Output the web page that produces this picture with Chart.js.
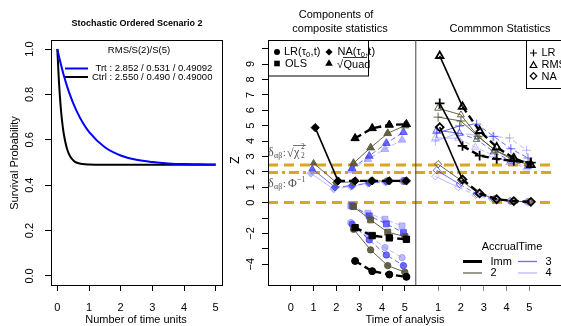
<!DOCTYPE html>
<html>
<head>
<meta charset="utf-8">
<script src="https://cdn.jsdelivr.net/npm/chart.js@4.4.1/dist/chart.umd.min.js"></script>
<style>
html, body { margin: 0; padding: 0; background: #fff; overflow: hidden; }
#wrap { position: relative; width: 561px; height: 326px; }
canvas { position: absolute; top: 0; }
#left { left: 0; }
#right { left: 230px; }
</style>
</head>
<body>
<div id="wrap">
  <canvas id="left" width="230" height="326"></canvas>
  <canvas id="right" width="331" height="326"></canvas>
</div>
<script>
// left panel: survival curves
const survTime = [0, 0.05, 0.1, 0.15, 0.2, 0.3, 0.4, 0.5, 0.6, 0.8, 1, 1.5, 2, 2.5, 3, 3.5, 4, 4.5, 5]
const trtSurv  = [1, 0.969, 0.940, 0.912, 0.886, 0.839, 0.798, 0.762, 0.730, 0.676, 0.635, 0.567, 0.531, 0.512, 0.502, 0.496, 0.493, 0.492, 0.491]
const ctrlSurv = [1, 0.858, 0.756, 0.682, 0.629, 0.563, 0.528, 0.510, 0.500, 0.493, 0.491, 0.490, 0.490, 0.490, 0.490, 0.490, 0.490, 0.490, 0.490]
const survXTicks = [0, 1, 2, 3, 4, 5]
const survYTicks = [0, 0.2, 0.4, 0.6, 0.8, 1]

// right panel: accrual groups and analysis times
const groups = ['Imm', '2', '3', '4']
const analysisTimes = [1, 2, 2.75, 3.5, 4.25, 5]

// components of composite statistics
const compLR = [
    [null, null, -3.79, -4.45, -4.67, -4.82],
    [null, null, -1.73, -3.07, -4.09, -4.52],
    [null, null, -1.40, -2.42, -3.40, -4.09],
    [null, null, -1.30, -2.10, -2.92, -3.57]
]
const compOLS = [
    [null, null, -1.63, -2.14, -2.29, -2.38],
    [null, null, -0.26, -1.12, -1.92, -2.20],
    [null, null, -0.20, -0.86, -1.38, -1.95],
    [null, null, -0.21, -0.69, -1.08, -1.51]
]
const compNA = [
    [4.87, 1.41, 1.41, 1.41, 1.41, 1.41],
    [2.56, 1.30, 1.35, 1.40, 1.41, 1.41],
    [2.19, 1.00, 1.10, 1.28, 1.37, 1.41],
    [1.90, 0.88, 1.05, 1.25, 1.35, 1.40]
]
const compQuad = [
    [null, null, 4.18, 4.83, 5.05, 5.09],
    [null, null, 2.56, 3.57, 4.50, 5.00],
    [null, null, 2.23, 3.03, 3.86, 4.57],
    [null, null, 2.08, 2.82, 3.47, 4.07]
]

// common statistics
const commLR = [
    [6.45, 3.68, 3.05, 2.84, 2.70, 2.60],
    [5.55, 5.30, 4.30, 3.40, 2.90, 2.60],
    [4.50, 4.98, 5.10, 4.30, 3.50, 2.90],
    [4.00, 4.50, 4.40, 4.30, 4.20, 3.40]
]
const commRMS = [
    [9.53, 6.23, 4.66, 3.60, 2.88, 2.45],
    [6.13, 5.70, 4.30, 3.40, 2.80, 2.45],
    [4.70, 4.50, 4.10, 3.30, 2.70, 2.35],
    [4.20, 4.18, 3.60, 3.10, 2.60, 2.25]
]
const commNA = [
    [4.90, 1.50, 0.60, 0.22, 0.10, 0.05],
    [2.50, 1.45, 0.62, 0.24, 0.10, 0.05],
    [2.10, 1.20, 0.55, 0.22, 0.10, 0.05],
    [1.70, 1.00, 0.50, 0.20, 0.10, 0.05]
]

const refLevels = [2.45, 1.96, 0]
const zTickLabels = [9, 8, 7, 6, 5, 4, 3, 2, 1, 0, -2, -4]
const timeTickLabels = [0, 1, 2, 3, 4, 5]

// layout / style
const panelGap = 5.46
const xMin = -1.0
const xMax = 11.56
const groupShift = [0.07, 0, -0.06, -0.12]
const groupColor = ['#000000', 'rgba(85,85,58,0.9)', 'rgba(60,60,250,0.75)', 'rgba(140,140,250,0.6)']
const gold = '#DAA520'
const FONT = '"Liberation Sans", Arial, sans-serif'
const SERIF = '"Liberation Serif", "DejaVu Serif", serif'

Chart.defaults.font.family = FONT
Chart.defaults.color = '#000'

function rotText(ctx, txt, x, y, size) {
    ctx.save()
    ctx.translate(x, y)
    ctx.rotate(-Math.PI / 2)
    ctx.font = size + 'px ' + FONT
    ctx.textAlign = 'center'
    ctx.textBaseline = 'middle'
    ctx.fillText(txt, 0, 0)
    ctx.restore()
}

// ---------- left chart ----------
const leftPlugin = {
    id: 'leftDeco',
    afterDraw(chart) {
        const ctx = chart.ctx
        const a = chart.chartArea
        const ys = chart.scales.y
        ctx.save()
        ctx.strokeStyle = '#000'
        ctx.lineWidth = 1
        ctx.strokeRect(a.left + 0.5, a.top + 0.5, a.right - a.left, a.bottom - a.top)
        ctx.fillStyle = '#000'
        survYTicks.forEach(v => rotText(ctx, v.toFixed(1), 30, ys.getPixelForValue(v), 11))
        rotText(ctx, 'Survival Probability', 15, 163, 11)
        ctx.font = 'bold 9px ' + FONT
        ctx.textAlign = 'center'
        ctx.textBaseline = 'middle'
        ctx.fillText('Stochastic Ordered Scenario 2', 137, 24)
        ctx.font = '11px ' + FONT
        ctx.fillText('Number of time units', 136, 320)
        // legend
        ctx.font = '9.5px ' + FONT
        ctx.fillText('RMS/S(2)/S(5)', 139, 50)
        ctx.textAlign = 'left'
        ctx.lineWidth = 2
        ctx.strokeStyle = '#0000ff'
        ctx.beginPath(); ctx.moveTo(65, 68.5); ctx.lineTo(88, 68.5); ctx.stroke()
        ctx.strokeStyle = '#000'
        ctx.beginPath(); ctx.moveTo(65, 77); ctx.lineTo(88, 77); ctx.stroke()
        ctx.fillText('Trt : 2.852 / 0.531 / 0.49092', 95.5, 68.5)
        ctx.fillText('Ctrl : 2.550 / 0.490 / 0.49000', 92, 77)
        ctx.restore()
    }
}

new Chart(document.getElementById('left').getContext('2d'), {
    type: 'line',
    data: {
        datasets: [
            {
                data: survTime.map((t, i) => ({ x: t, y: trtSurv[i] })),
                borderColor: '#0000ff', borderWidth: 2, pointRadius: 0,
                cubicInterpolationMode: 'monotone', fill: false
            },
            {
                data: survTime.map((t, i) => ({ x: t, y: ctrlSurv[i] })),
                borderColor: '#000000', borderWidth: 2, pointRadius: 0,
                cubicInterpolationMode: 'monotone', fill: false
            }
        ]
    },
    options: {
        responsive: false,
        animation: false,
        layout: { padding: { top: 40, right: 8, left: 0, bottom: 0 } },
        plugins: { legend: { display: false }, tooltip: { enabled: false } },
        scales: {
            x: {
                type: 'linear', min: -0.2, max: 5.2,
                afterBuildTicks: s => { s.ticks = survXTicks.map(v => ({ value: v })) },
                afterFit: s => { s.height = 41 },
                grid: { drawOnChartArea: false, tickLength: 6, color: '#000' },
                border: { display: false },
                ticks: { font: { size: 11 }, padding: 10, color: '#000', maxRotation: 0 }
            },
            y: {
                type: 'linear', min: -0.04, max: 1.04,
                afterBuildTicks: s => { s.ticks = survYTicks.map(v => ({ value: v })) },
                afterFit: s => { s.width = 51 },
                grid: { drawOnChartArea: false, tickLength: 6, color: '#000' },
                border: { display: false },
                ticks: { display: false }
            }
        }
    },
    plugins: [leftPlugin]
})

// ---------- right chart ----------
function series(vals, g, off, style, filled, radius) {
    const imm = g === 0
    const col = groupColor[g]
    return {
        data: analysisTimes.map((t, i) => ({ x: t + groupShift[g] + off, y: vals[i] })),
        borderColor: col,
        backgroundColor: filled ? col : 'rgba(0,0,0,0)',
        pointBorderColor: col,
        pointBackgroundColor: filled ? col : 'rgba(0,0,0,0)',
        pointStyle: style,
        pointRadius: imm ? radius + 0.3 : radius,
        pointBorderWidth: filled ? 1 : (imm ? 1.8 : 1),
        borderWidth: imm ? 2.2 : 1,
        segment: {
            borderDash: c => (c.p0DataIndex === 0 || g === 1) ? [] : (imm ? [7, 4] : [5, 3]),
            borderWidth: c => (imm ? (c.p0DataIndex === 0 ? 1.6 : 2.4) : 1)
        },
        showLine: true, spanGaps: false, fill: false, tension: 0
    }
}

const naFirstStyle = ['rectRot', 'triangle', 'triangle', 'rectRot']
const datasets = []
for (let g = 0; g < groups.length; g++) {
    datasets.push(series(compNA[g], g, 0, analysisTimes.map((t, i) => i === 0 ? naFirstStyle[g] : 'rectRot'), true, 3.8))
    datasets.push(series(compQuad[g], g, 0, 'triangle', true, 4.5))
    datasets.push(series(compOLS[g], g, 0, 'rect', true, 4.2))
    datasets.push(series(compLR[g], g, 0, 'circle', true, 3.2))
    datasets.push(series(commLR[g], g, panelGap, 'cross', false, 4.5))
    datasets.push(series(commRMS[g], g, panelGap, 'triangle', false, 4))
    datasets.push(series(commNA[g], g, panelGap, 'rectRot', false, 3.6))
}
const refDash = [[10, 6], [10, 4, 3, 4], [10, 6]]
refLevels.forEach((lv, k) => {
    datasets.push({
        data: [{ x: xMin, y: lv }, { x: xMax, y: lv }],
        borderColor: gold, borderWidth: 3, borderDash: refDash[k],
        pointRadius: 0, fill: false
    })
})

function drawPt(ctx, style, x, y, r, fill) {
    ctx.save()
    ctx.fillStyle = '#000'
    ctx.strokeStyle = '#000'
    ctx.lineWidth = 1.2
    ctx.beginPath()
    if (style === 'circle') ctx.arc(x, y, r, 0, Math.PI * 2)
    else if (style === 'square') ctx.rect(x - r, y - r, 2 * r, 2 * r)
    else if (style === 'diamond') { ctx.moveTo(x, y - r); ctx.lineTo(x + r, y); ctx.lineTo(x, y + r); ctx.lineTo(x - r, y); ctx.closePath() }
    else if (style === 'triangle') { ctx.moveTo(x, y - r); ctx.lineTo(x + r, y + r * 0.75); ctx.lineTo(x - r, y + r * 0.75); ctx.closePath() }
    else if (style === 'cross') { ctx.moveTo(x - r, y); ctx.lineTo(x + r, y); ctx.moveTo(x, y - r); ctx.lineTo(x, y + r) }
    if (style === 'cross') ctx.stroke()
    else if (fill) ctx.fill()
    else ctx.stroke()
    ctx.restore()
}

const rightPlugin = {
    id: 'rightDeco',
    afterDraw(chart) {
        const ctx = chart.ctx
        const a = chart.chartArea
        const xs = chart.scales.x
        const ys = chart.scales.y
        ctx.save()
        ctx.translate(-230, 0)
        const L = a.left + 230
        // box and divider
        ctx.strokeStyle = '#000'
        ctx.lineWidth = 1
        ctx.strokeRect(L + 0.5, a.top + 0.5, 320, a.bottom - a.top)
        const dx = xs.getPixelForValue(panelGap) + 230
        ctx.strokeStyle = '#444'
        ctx.beginPath(); ctx.moveTo(dx + 0.5, a.top); ctx.lineTo(dx + 0.5, a.bottom); ctx.stroke()

        // y tick labels and title
        ctx.fillStyle = '#000'
        zTickLabels.forEach(v => rotText(ctx, String(v).replace('-', '\u2212'), 251, ys.getPixelForValue(v), 11))
        rotText(ctx, 'Z', 236, 160, 12)

        // titles
        ctx.font = '11px ' + FONT
        ctx.textAlign = 'center'
        ctx.textBaseline = 'middle'
        ctx.fillText('Components of', 336, 15)
        ctx.fillText('composite statistics', 340, 29)
        ctx.fillText('Commmon Statistics', 500, 29)
        ctx.fillText('Time of analysis', 405, 320)

        // delta labels
        ctx.fillStyle = '#505050'
        ctx.textAlign = 'left'
        ctx.textBaseline = 'alphabetic'
        let x = 268
        ctx.font = '12px ' + SERIF; ctx.fillText('\u03b4', x, 156); x += 6
        ctx.font = '8px ' + SERIF; ctx.fillText('\u03b1\u03b2', x, 158); x += 9
        ctx.font = '10px ' + SERIF; ctx.fillText(':', x, 156); x += 4
        ctx.font = '12px ' + SERIF; ctx.fillText('\u221a', x, 157); x += 7
        ctx.fillText('\u03c7', x, 156)
        ctx.font = '7.5px ' + SERIF
        ctx.fillText('2', x + 7, 149)
        ctx.fillText('2', x + 7, 158)
        ctx.strokeStyle = '#505050'
        ctx.lineWidth = 0.8
        ctx.beginPath(); ctx.moveTo(x - 1, 145.5); ctx.lineTo(x + 12, 145.5); ctx.stroke()
        x = 268
        ctx.font = '12px ' + SERIF; ctx.fillText('\u03b4', x, 187); x += 6
        ctx.font = '8px ' + SERIF; ctx.fillText('\u03b1\u03b2', x, 189); x += 9
        ctx.font = '10px ' + SERIF; ctx.fillText(':', x, 187); x += 5
        ctx.font = '12px ' + SERIF; ctx.fillText('\u03a6', x, 187); x += 9
        ctx.font = '8px ' + SERIF; ctx.fillText('\u22121', x, 182)

        // legend: components
        ctx.fillStyle = '#fff'
        ctx.fillRect(L + 0.5, a.top + 0.5, 100, 35.5)
        ctx.strokeStyle = '#000'
        ctx.lineWidth = 1
        ctx.strokeRect(L + 0.5, a.top + 0.5, 100, 35.5)
        drawPt(ctx, 'circle', 277, 52, 3, true)
        drawPt(ctx, 'diamond', 329, 52, 3.6, true)
        drawPt(ctx, 'square', 277, 63.5, 2.8, true)
        drawPt(ctx, 'triangle', 329, 63, 3.8, true)
        ctx.fillStyle = '#000'
        ctx.textBaseline = 'middle'
        ctx.font = '11px ' + FONT
        let tx = 284
        ctx.fillText('LR(\u03c4', tx, 52); tx += ctx.measureText('LR(\u03c4').width
        ctx.font = '7.5px ' + FONT; ctx.fillText('0', tx, 55); tx += 4.5
        ctx.font = '11px ' + FONT; ctx.fillText(',t)', tx, 52)
        tx = 337.5
        ctx.fillText('NA(\u03c4', tx, 52); tx += ctx.measureText('NA(\u03c4').width
        ctx.font = '7.5px ' + FONT; ctx.fillText('0', tx, 55); tx += 4.5
        ctx.font = '11px ' + FONT; ctx.fillText(',t)', tx, 52)
        ctx.fillText('OLS', 285, 64)
        ctx.fillText('\u221a', 337, 64.5)
        ctx.fillText('Quad', 343.5, 65)
        ctx.lineWidth = 0.8
        ctx.beginPath(); ctx.moveTo(343, 57.5); ctx.lineTo(367, 57.5); ctx.stroke()

        // legend: common statistics
        ctx.fillStyle = '#fff'
        ctx.fillRect(526.5, a.top + 0.5, 60, 48)
        ctx.lineWidth = 1
        ctx.strokeRect(526.5, a.top + 0.5, 60, 48)
        ctx.strokeStyle = '#000'
        drawPt(ctx, 'cross', 533.5, 53, 3.5, false)
        drawPt(ctx, 'triangle', 533.5, 65, 3.3, false)
        drawPt(ctx, 'diamond', 533.5, 76, 3.3, false)
        ctx.fillStyle = '#000'
        ctx.font = '11px ' + FONT
        ctx.fillText('LR', 541.5, 53)
        ctx.fillText('RMS', 541.5, 65)
        ctx.fillText('NA', 541.5, 76.5)

        // legend: accrual time
        ctx.textAlign = 'center'
        ctx.fillText('AccrualTime', 512, 246.5)
        ctx.textAlign = 'left'
        const items = [[463, 261.5, 0, 'Imm', 490.5], [463, 273, 1, '2', 490.5], [518, 261.5, 2, '3', 545.5], [518, 273, 3, '4', 545.5]]
        items.forEach(it => {
            ctx.strokeStyle = groupColor[it[2]]
            ctx.lineWidth = it[2] === 0 ? 3 : 1.3
            ctx.beginPath(); ctx.moveTo(it[0], it[1]); ctx.lineTo(it[0] + 19, it[1]); ctx.stroke()
            ctx.fillStyle = '#000'
            ctx.fillText(it[3], it[4], it[1])
        })
        ctx.restore()
    }
}

const xTickPos = timeTickLabels.concat(timeTickLabels.slice(1).map(v => v + panelGap))

new Chart(document.getElementById('right').getContext('2d'), {
    type: 'line',
    data: { datasets: datasets },
    options: {
        responsive: false,
        animation: false,
        layout: { padding: { top: 40, right: 0, left: 0, bottom: 0 } },
        plugins: { legend: { display: false }, tooltip: { enabled: false } },
        scales: {
            x: {
                type: 'linear', min: xMin, max: xMax,
                afterBuildTicks: s => { s.ticks = xTickPos.map(v => ({ value: v })) },
                afterFit: s => { s.height = 41 },
                grid: {
                    drawOnChartArea: false, tickLength: 6,
                    color: c => (c.tick && c.tick.value > panelGap) ? '#888' : '#000'
                },
                border: { display: false },
                ticks: {
                    font: { size: 11 }, padding: 10, color: '#000', maxRotation: 0, autoSkip: false,
                    callback: v => v < panelGap ? String(v) : String(Math.round(v - panelGap))
                }
            },
            y: {
                type: 'linear', min: -5.35, max: 10.56,
                afterBuildTicks: s => {
                    const t = []
                    for (let v = -4; v <= 10; v++) t.push({ value: v })
                    s.ticks = t
                },
                afterFit: s => { s.width = 38 },
                grid: { drawOnChartArea: false, tickLength: 6, color: '#000' },
                border: { display: false },
                ticks: { display: false }
            }
        }
    },
    plugins: [rightPlugin]
})
</script>
</body>
</html>
